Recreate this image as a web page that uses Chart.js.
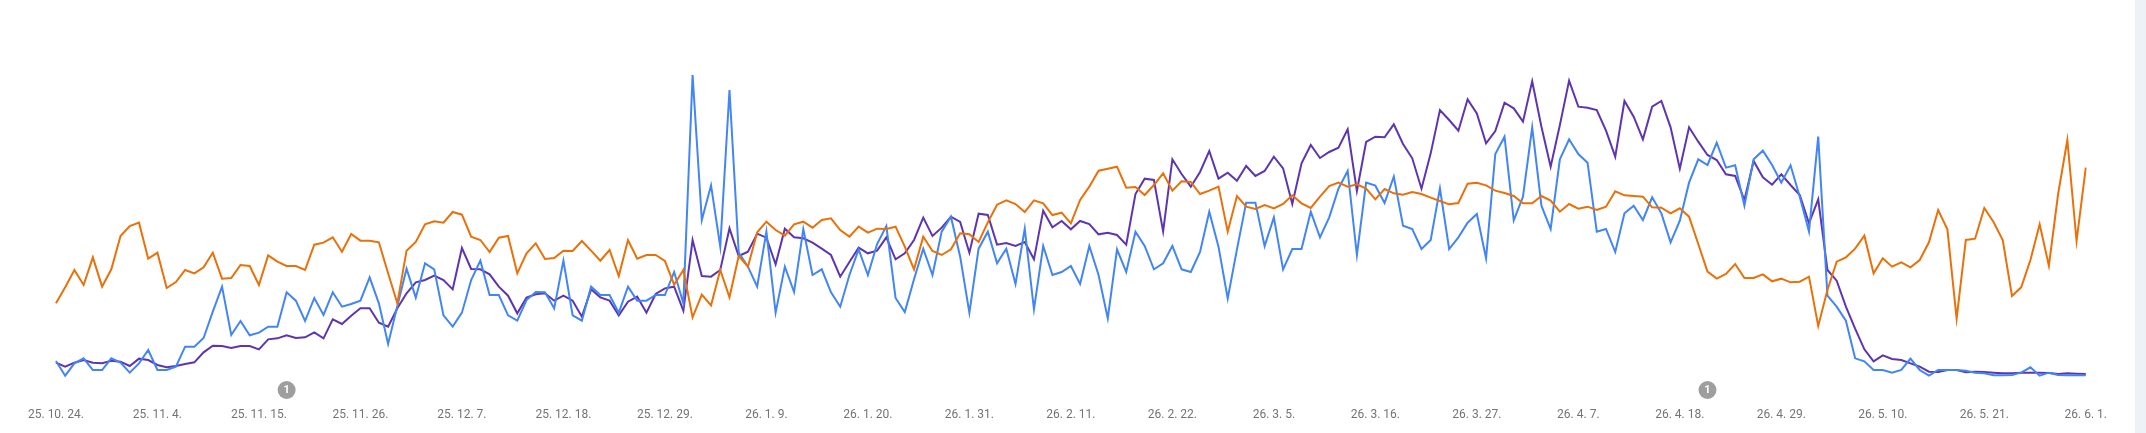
<!DOCTYPE html>
<html>
<head>
<meta charset="utf-8">
<script src="https://cdn.jsdelivr.net/npm/chart.js@4.4.1/dist/chart.umd.min.js"></script>
<style>
  html, body { margin: 0; padding: 0; background: #ffffff; }
  #wrap { position: relative; width: 2146px; height: 433px; overflow: hidden; }
  #box { position: absolute; left: 0; top: 0; width: 2135px; height: 433px; }
  #strip { position: absolute; left: 2135px; top: 0; width: 11px; height: 433px; background: #eef1f5; }
</style>
</head>
<body>
<div id="wrap">
  <div id="box"><canvas id="chart"></canvas></div>
  <div id="strip"></div>
</div>
<script>
// Daily series from 2025-10-24 to 2026-06-01 (221 days)
const startDate = new Date(2025, 9, 24);
const dayCount = 221;

// Tick labels are shown every 11 days
const tickStep = 11;

// Day indexes that carry a "1" annotation marker
const annotationDays = [25, 179];
const annotationText = ['1', '1'];

const orangeSeries = [
  230, 278, 330, 285, 368, 280, 332, 432, 462, 472, 364, 382, 276, 294, 330,
  320, 338, 382, 304, 306, 345, 342, 285, 374, 355, 342, 342, 330, 406, 412, 428, 385, 438, 418, 418,
  413, 320, 230, 388, 414, 467, 476, 472, 504, 496, 430, 420, 384, 427, 432, 320, 380, 410, 363,
  366, 388, 387, 417, 388, 358, 390, 312, 420, 364, 375, 375, 357, 286, 330, 188, 256, 224, 330, 248,
  372, 340, 443, 475, 450, 433, 467, 475, 457, 480, 485, 450, 430, 460, 442, 454, 453, 460, 400,
  332, 430, 387, 375, 392, 440, 437, 414, 473, 526, 539, 528, 504, 539, 530, 495, 502, 470, 540, 580,
  628, 634, 640, 577, 579, 555, 585, 620, 568, 596, 594, 558, 568, 580, 445, 552, 520, 513, 525,
  515, 528, 554, 530, 516, 550, 582, 592, 580, 587, 574, 542, 573, 560, 556, 564, 558, 547, 537, 527,
  531, 589, 592, 584, 568, 561, 552, 530, 530, 552, 538, 505, 528, 514, 520, 510, 520, 566, 554,
  552, 550, 518, 517, 500, 515, 490, 408, 325, 304, 318, 348, 306, 306, 317, 296, 304, 293, 295, 310,
  162, 270, 355, 368, 394, 433, 320, 365, 340, 353, 338, 360, 413, 510, 452, 184,
  420, 424, 516, 474, 420, 252, 278, 360, 467, 343, 558, 720, 417, 637
];

const blueSeries = [
  57, 13, 50, 65, 30, 30, 65, 52, 22, 50, 90, 30, 30, 40, 100,
  100, 126, 205, 280, 135, 177, 134, 142, 160, 160, 263, 238, 177, 246, 195, 263, 220, 228, 238, 308,
  230, 108, 222, 334, 247, 350, 332, 194, 160, 202, 300, 358, 255, 255, 194, 178, 240, 264, 263,
  215, 358, 194, 178, 280, 255, 255, 202, 280, 238, 238, 255, 255, 324, 230, 915, 480, 584, 400, 870,
  382, 340, 280, 445, 202, 340, 264, 453, 315, 332, 263, 220, 315, 392, 315, 408, 462, 246, 204,
  302, 394, 315, 445, 490, 370, 202, 394, 445, 350, 394, 288, 454, 212, 402, 315, 324, 342, 288, 402,
  315, 185, 392, 324, 445, 402, 332, 350, 402, 332, 324, 384, 505, 400, 245, 392, 532, 532, 402,
  488, 332, 393, 393, 505, 428, 488, 574, 627, 375, 592, 583, 531, 610, 463, 453, 393, 420, 575, 393,
  428, 472, 498, 365, 678, 730, 479, 550, 758, 523, 453, 662, 722, 678, 652, 445, 453, 384, 500,
  523, 480, 548, 500, 413, 478, 592, 662, 645, 712, 637, 644, 523, 662, 688, 645, 592, 644, 550, 445,
  730, 253, 220, 178, 65, 56, 30, 30, 22, 30, 64, 30, 13, 30, 30, 30,
  28, 22, 20, 14, 14, 15, 22, 38, 13, 22, 15, 14, 14, 14
];

const purpleSeries = [
  52, 40, 52, 60, 52, 50, 58, 55, 42, 64, 60, 45, 38, 42, 48,
  53, 83, 103, 102, 96, 102, 102, 92, 122, 125, 134, 126, 128, 143, 125, 182, 168, 193, 215, 215,
  172, 160, 215, 260, 293, 300, 313, 300, 272, 396, 333, 332, 317, 280, 253, 200, 247, 257, 260,
  238, 253, 238, 190, 272, 248, 238, 194, 235, 250, 202, 258, 275, 280, 208, 420, 312, 310, 330, 455,
  372, 385, 439, 427, 347, 454, 428, 425, 412, 394, 375, 310, 354, 397, 380, 388, 428, 362, 380,
  420, 487, 432, 457, 490, 474, 382, 499, 495, 406, 411, 402, 414, 362, 508, 458, 477, 452, 477, 468,
  437, 442, 435, 406, 558, 604, 600, 446, 662, 618, 580, 624, 687, 604, 622, 598, 642, 612, 627,
  670, 635, 528, 650, 705, 666, 684, 697, 752, 567, 714, 730, 728, 767, 708, 665, 574, 680, 810, 780,
  748, 842, 800, 710, 747, 832, 815, 775, 896, 760, 640, 765, 898, 820, 817, 810, 748, 670, 837,
  790, 722, 820, 837, 758, 634, 758, 715, 675, 660, 617, 612, 540, 657, 608, 586, 617, 585, 555, 470,
  542, 330, 298, 220, 154, 92, 56, 74, 63, 60, 50, 40, 25, 24, 30, 30,
  23, 25, 24, 22, 20, 20, 22, 22, 22, 21, 18, 20, 19, 18
];

const colors = {
  orange: '#e8710a',
  blue: '#4285f4',
  purple: '#5e35b1',
  tick: '#70757a',
  marker: '#9e9e9e'
};

// "25. 10. 24." style labels
function formatDay(d) {
  const yy = String(d.getFullYear()).slice(2);
  return yy + '. ' + (d.getMonth() + 1) + '. ' + d.getDate() + '.';
}

const categories = [];
for (let i = 0; i < dayCount; i++) {
  const d = new Date(startDate.getFullYear(), startDate.getMonth(), startDate.getDate() + i);
  categories.push(formatDay(d));
}

// Grey numbered markers below the plot
const markerPlugin = {
  id: 'markers',
  afterDraw(chart) {
    const ctx = chart.ctx;
    const x = chart.scales.x;
    const y = chart.chartArea.bottom + 10;
    ctx.save();
    annotationDays.forEach((day, k) => {
      const px = x.getPixelForValue(day);
      ctx.beginPath();
      ctx.arc(px, y, 9, 0, Math.PI * 2);
      ctx.fillStyle = colors.marker;
      ctx.fill();
      ctx.fillStyle = '#ffffff';
      ctx.font = 'bold 11px Roboto';
      ctx.textAlign = 'center';
      ctx.textBaseline = 'middle';
      ctx.fillText(annotationText[k], px, y + 0.5);
    });
    ctx.restore();
  }
};

function lineSet(data, color) {
  return {
    data: data,
    borderColor: color,
    borderWidth: 2,
    pointRadius: 0,
    tension: 0,
    fill: false
  };
}

new Chart(document.getElementById('chart'), {
  type: 'line',
  data: {
    labels: categories,
    datasets: [
      lineSet(orangeSeries, colors.orange),
      lineSet(blueSeries, colors.blue),
      lineSet(purpleSeries, colors.purple)
    ]
  },
  options: {
    responsive: true,
    maintainAspectRatio: false,
    animation: false,
    events: [],
    layout: { padding: { left: 55, right: 48, top: 20, bottom: 11 } },
    plugins: { legend: { display: false }, tooltip: { enabled: false } },
    scales: {
      x: {
        offset: false,
        grid: { display: false, drawTicks: false },
        border: { display: false },
        afterFit: function(scale) { scale.height = 42; },
        ticks: {
          autoSkip: false,
          maxRotation: 0,
          padding: 28,
          color: colors.tick,
          font: { family: 'Roboto', size: 12 },
          callback: function(value, index) {
            return index % tickStep === 0 ? categories[index] : null;
          }
        }
      },
      y: {
        display: false,
        min: 0,
        max: 1080
      }
    }
  },
  plugins: [markerPlugin]
});
</script>
</body>
</html>
